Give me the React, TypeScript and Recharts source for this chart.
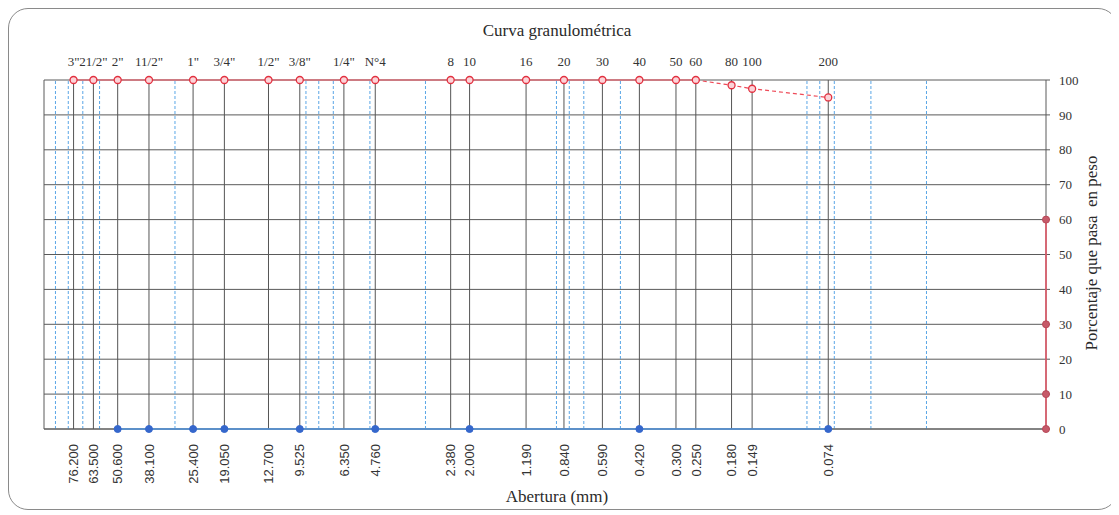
import React from 'react';
import { ComposedChart, Scatter, XAxis, YAxis, CartesianGrid, ReferenceLine } from 'recharts';

// Sieve openings (mm), sieve names and printed opening labels
const sieveOpenings = [76.2, 63.5, 50.8, 38.1, 25.4, 19.05, 12.7, 9.525, 6.35, 4.76, 2.38, 2.0, 1.19, 0.84, 0.59, 0.42, 0.3, 0.25, 0.18, 0.149, 0.074];
const sieveNames = ['3"', '21/2"', '2"', '11/2"', '1"', '3/4"', '1/2"', '3/8"', '1/4"', 'N°4', '8', '10', '16', '20', '30', '40', '50', '60', '80', '100', '200'];
const openingLabels = ['76.200', '63.500', '50.600', '38.100', '25.400', '19.050', '12.700', '9.525', '6.350', '4.760', '2.380', '2.000', '1.190', '0.840', '0.590', '0.420', '0.300', '0.250', '0.180', '0.149', '0.074'];
// Percent passing for each sieve
const percentPassing = [100, 100, 100, 100, 100, 100, 100, 100, 100, 100, 100, 100, 100, 100, 100, 100, 100, 100, 98.5, 97.5, 95];

// Blue markers on the 0 line
const zeroOpenings = [50.8, 38.1, 25.4, 19.05, 9.525, 4.76, 2.0, 0.42, 0.074];
const zeroValues = [0, 0, 0, 0, 0, 0, 0, 0, 0];

// Markers on the right edge
const edgeOpenings = [0.01, 0.01, 0.01, 0.01];
const edgeValues = [0, 10, 30, 60];

// Visible minor (log) gridlines
const minorGrid = [90, 80, 70, 60, 30, 9, 8, 7, 5, 3, 0.9, 0.8, 0.7, 0.5, 0.09, 0.08, 0.07, 0.05, 0.03];

const yTicks = [0, 10, 20, 30, 40, 50, 60, 70, 80, 90, 100];
const xDomain = [0.01, 100];

const curve = sieveOpenings.map((x, i) => ({ x, y: percentPassing[i] }));
const firstDrop = percentPassing.findIndex((v) => v < 100);
const curveSolid = curve.slice(0, firstDrop);
const curveDashed = curve.slice(firstDrop - 1);
const zeroPts = zeroOpenings.map((x, i) => ({ x, y: zeroValues[i] }));
const edgePts = edgeOpenings.map((x, i) => ({ x, y: edgeValues[i] }));

const SERIF = '"Liberation Serif", "Times New Roman", serif';
const SANS = '"Liberation Sans", Arial, sans-serif';

const idxOf = (v: number) => sieveOpenings.findIndex((s) => Math.abs(s - v) < 1e-9);

const TopTick = (props: any) => {
  const { x, y, payload } = props;
  const i = idxOf(payload.value);
  return (
    <text x={x} y={y} dy={-12} textAnchor="middle" fontFamily={SERIF} fontSize={13} fill="#333">
      {i >= 0 ? sieveNames[i] : ''}
    </text>
  );
};

const BottomTick = (props: any) => {
  const { x, y, payload } = props;
  const i = idxOf(payload.value);
  return (
    <g transform={`translate(${x},${y})`}>
      <text x={-13} y={0} dy="0.36em" transform="rotate(-90)" textAnchor="end" fontFamily={SANS} fontSize={13} fill="#333">
        {i >= 0 ? openingLabels[i] : ''}
      </text>
    </g>
  );
};

const noShape = () => <g />;
const redRing = (p: any) => <circle cx={p.cx} cy={p.cy} r={3.5} fill="#fbd3d8" stroke="#e2303f" strokeWidth={1.3} />;
const blueDot = (p: any) => <circle cx={p.cx} cy={p.cy} r={3.5} fill="#3567cc" stroke="#3567cc" />;
const edgeDot = (p: any) => <circle cx={p.cx} cy={p.cy} r={3.5} fill="#c65a69" stroke="#b84858" />;

export default function App() {
  return (
    <div
      style={{
        position: 'relative',
        width: 1110,
        height: 502,
        boxSizing: 'border-box',
        border: '1px solid #8a8a8a',
        borderRadius: 20,
        background: '#fff',
      }}
    >
      <div
        style={{
          position: 'absolute',
          left: 0,
          top: 12,
          width: 1096,
          textAlign: 'center',
          fontFamily: SERIF,
          fontSize: 17,
          color: '#2a2a2a',
        }}
      >
        Curva granulométrica
      </div>
      <div
        style={{
          position: 'absolute',
          left: 0,
          top: 478,
          width: 1096,
          textAlign: 'center',
          fontFamily: SERIF,
          fontSize: 17,
          color: '#2a2a2a',
        }}
      >
        Abertura (mm)
      </div>
      <div
        style={{
          position: 'absolute',
          left: 1091 - 8 - 150,
          top: 252 - 8 - 10,
          width: 300,
          height: 20,
          lineHeight: '20px',
          textAlign: 'center',
          fontFamily: SERIF,
          fontSize: 17,
          color: '#2a2a2a',
          transform: 'rotate(-90deg)',
          whiteSpace: 'pre',
        }}
      >
        {'Porcentaje que pasa  en peso'}
      </div>
      <div style={{ position: 'absolute', left: -1, top: -1 }}>
        <ComposedChart width={1110} height={502} margin={{ top: 42, right: 12, bottom: 21, left: 36 }}>
          <CartesianGrid horizontal vertical={false} stroke="#5a5a5a" strokeWidth={1} />
          <XAxis
            xAxisId={0}
            dataKey="x"
            type="number"
            scale="log"
            domain={xDomain}
            reversed
            ticks={sieveOpenings}
            interval={0}
            tick={<BottomTick />}
            tickLine={false}
            tickSize={0}
            height={60}
            axisLine={{ stroke: '#5a5a5a' }}
          />
          <XAxis
            xAxisId="top"
            orientation="top"
            dataKey="x"
            type="number"
            scale="log"
            domain={xDomain}
            reversed
            ticks={sieveOpenings}
            interval={0}
            tick={<TopTick />}
            tickLine={false}
            tickSize={0}
            height={30}
            axisLine={false}
          />
          <YAxis
            yAxisId={0}
            orientation="right"
            dataKey="y"
            type="number"
            domain={[0, 100]}
            ticks={yTicks}
            interval={0}
            width={60}
            tickSize={4}
            tickMargin={9}
            axisLine={{ stroke: '#5a5a5a' }}
            tickLine={{ stroke: '#5a5a5a' }}
            tick={{ fontFamily: SERIF, fontSize: 13, fill: '#333', textAnchor: 'start' }}
          />
          {minorGrid.map((v) => (
            <ReferenceLine key={'m' + v} xAxisId={0} yAxisId={0} x={v} stroke="#5aa6e6" strokeWidth={1} strokeDasharray="3 2" />
          ))}
          <ReferenceLine xAxisId={0} yAxisId={0} x={100} stroke="#5a5a5a" />
          {sieveOpenings.map((v) => (
            <ReferenceLine key={'s' + v} xAxisId={0} yAxisId={0} x={v} stroke="#555" strokeWidth={1} />
          ))}
          <Scatter xAxisId={0} yAxisId={0} data={zeroPts} line={{ stroke: '#4f95e0', strokeWidth: 1.5 }} shape={noShape} isAnimationActive={false} />
          <Scatter xAxisId="top" yAxisId={0} data={curveSolid} line={{ stroke: '#ee4a58', strokeWidth: 1.2 }} shape={noShape} isAnimationActive={false} />
          <Scatter xAxisId="top" yAxisId={0} data={curveDashed} line={{ stroke: '#ee4a58', strokeWidth: 1.2, strokeDasharray: '4 3' }} shape={noShape} isAnimationActive={false} />
          <Scatter xAxisId="top" yAxisId={0} data={curve} shape={redRing} isAnimationActive={false} />
          <Scatter xAxisId={0} yAxisId={0} data={zeroPts} shape={blueDot} isAnimationActive={false} />
          <Scatter xAxisId={0} yAxisId={0} data={edgePts} line={{ stroke: '#e05868', strokeWidth: 1.6 }} shape={edgeDot} isAnimationActive={false} />
        </ComposedChart>
      </div>
    </div>
  );
}
